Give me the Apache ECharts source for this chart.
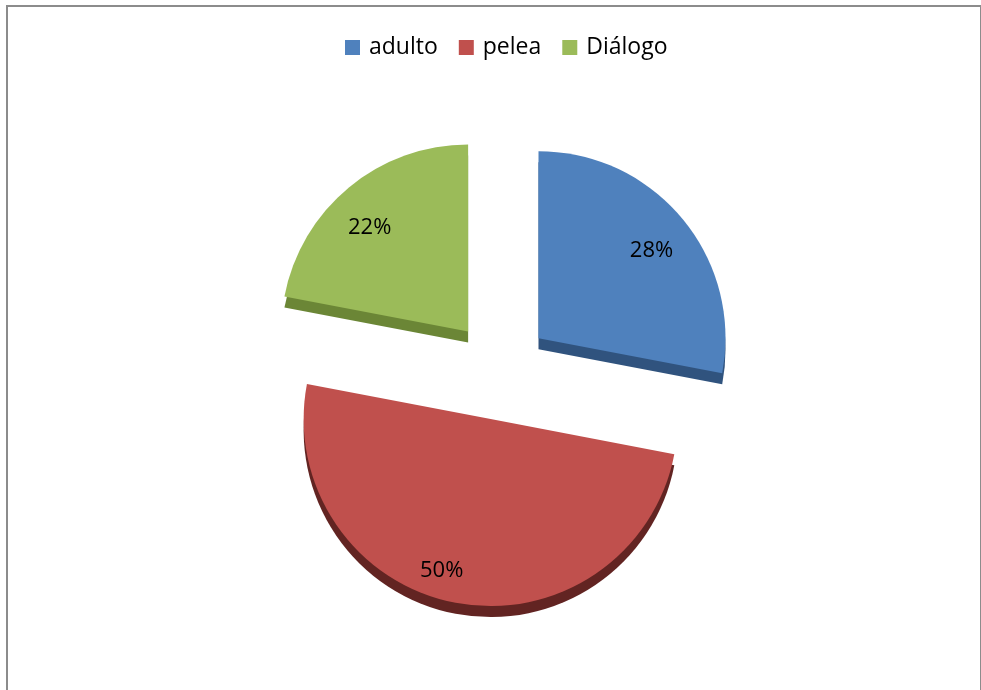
<!DOCTYPE html>
<html>
<head>
<meta charset="utf-8">
<script src="https://cdn.jsdelivr.net/npm/echarts@6/dist/echarts.min.js"></script>
<style>
	html, body { margin: 0; padding: 0; background: #fff; }
	#chart { width: 981px; height: 690px; }
</style>
</head>
<body>
<div id="chart"></div>
<script>
	// categorías y valores (%)
	var categories = ['adulto', 'pelea', 'Diálogo'];
	var values = [28, 50, 22];
	// colores de la cara y del borde (profundidad)
	var faceColors = ['#4f81bd', '#c0504d', '#9bbb59'];
	var sideColors = ['#30537e', '#622422', '#6b8636'];
	// estilo de etiquetas para acercarlas a su sitio
	var labelStyles = [
		{ formatter: '\n{c}%', lineHeight: 22, padding: [0, 12, 0, 0] },
		{ padding: [0, 40, 0, 0] },
		{ formatter: '\n{c}%', lineHeight: 30 }
	];

	var center = [500, 370];
	var depth = 11;
	var radius = 187;

	function buildData(colors, withLabel) {
		return categories.map(function (name, i) {
			var item = {
				name: name,
				value: values[i],
				selected: true,
				itemStyle: {
					color: colors ? colors[i] : 'rgba(0,0,0,0)'
				}
			};
			if (withLabel) {
				item.label = labelStyles[i];
			}
			return item;
		});
	}

	var myChart = echarts.init(document.getElementById('chart'));

	var option = {
		animation: false,
		backgroundColor: '#fff',
		graphic: [{
			type: 'rect',
			silent: true,
			shape: { x: 7, y: 6, width: 974, height: 700 },
			style: { fill: 'none', stroke: '#8c8c8c', lineWidth: 2 }
		}],
		legend: {
			top: 31,
			left: 340,
			selectedMode: false,
			icon: 'rect',
			itemWidth: 15,
			itemHeight: 15,
			itemGap: 21,
			textStyle: {
				fontFamily: 'Open Sans',
				fontSize: 23,
				color: '#000',
				padding: [0, 0, 0, 4]
			},
			data: categories.map(function (name, i) {
				return { name: name, itemStyle: { color: faceColors[i] } };
			})
		},
		series: [
			{
				// cara superior
				name: 'cara',
				type: 'pie',
				z: 3,
				center: center,
				radius: [0, radius],
				selectedMode: 'multiple',
				selectedOffset: 50,
				label: { show: false },
				labelLine: { show: false },
				emphasis: { disabled: true },
				data: buildData(faceColors)
			},
			{
				// lado (efecto 3D)
				name: 'lado',
				type: 'pie',
				z: 2,
				center: [center[0], center[1] + depth],
				radius: [0, radius],
				selectedMode: 'multiple',
				selectedOffset: 50,
				label: { show: false },
				labelLine: { show: false },
				emphasis: { disabled: true },
				data: buildData(sideColors)
			},
			{
				// etiquetas de porcentaje
				name: 'etiquetas',
				type: 'pie',
				z: 4,
				silent: true,
				center: center,
				radius: [radius * 0.62, radius],
				selectedMode: 'multiple',
				selectedOffset: 50,
				label: {
					show: true,
					position: 'inside',
					formatter: '{c}%',
					fontFamily: 'Open Sans',
					fontSize: 22,
					color: '#000'
				},
				labelLine: { show: false },
				emphasis: { disabled: true },
				data: buildData(null, true)
			}
		]
	};

	myChart.setOption(option);
</script>
</body>
</html>
